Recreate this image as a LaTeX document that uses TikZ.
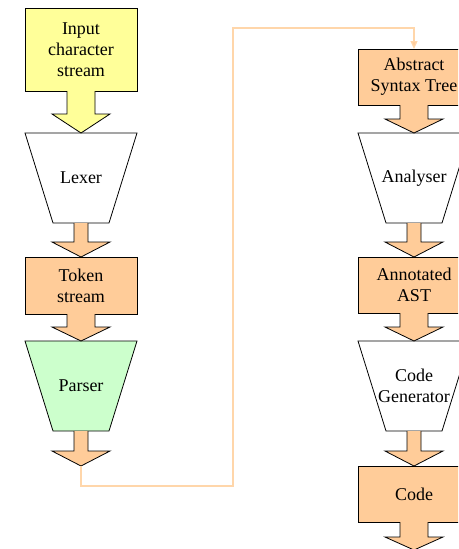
\documentclass[tikz,border=0pt]{standalone}
\usepackage{fontspec}
\setmainfont{Liberation Serif}
\usepackage{xcolor}
\usepackage{tikz}
\usetikzlibrary{arrows.meta,calc,backgrounds}

\definecolor{peach}{RGB}{255,204,153}
\definecolor{paleyellow}{RGB}{255,255,153}
\definecolor{palegreen}{RGB}{204,255,204}
\definecolor{linkpeach}{RGB}{255,214,170}

% block arrow: [cover] from, to, shaft half width, head length, fill
\newcommand{\flow}[6][0]{%
  \fill[#6] ($(#2)+(-#4,-#1)$) -- ($(#3)+(-#4,-#5)$) -- ($(#3)+(-29,-#5)$) -- (#3)
    -- ($(#3)+(29,-#5)$) -- ($(#3)+(#4,-#5)$) -- ($(#2)+(#4,-#1)$) -- cycle;
  \draw[edge] ($(#2)+(-#4,0)$) -- ($(#3)+(-#4,-#5)$) -- ($(#3)+(-29,-#5)$) -- (#3)
    -- ($(#3)+(29,-#5)$) -- ($(#3)+(#4,-#5)$) -- ($(#2)+(#4,0)$);
}

% trapezium outline behind a stage node: name, fill
\newcommand{\stageshape}[2]{%
  \begin{scope}[on background layer]
    \draw[edge, fill=#2] (#1.north west) -- (#1.north east) -- ($(#1.south east)+(-28,0)$)
      -- ($(#1.south west)+(28,0)$) -- cycle;
  \end{scope}
}

\begin{document}
\begin{tikzpicture}[
    x=1pt, y=-1pt,
    font=\fontsize{18}{21}\selectfont,
    edge/.style={draw=black, line width=0.8pt, line join=miter},
    box/.style={rectangle, draw, line width=0.8pt, minimum width=112pt, outer sep=0pt, align=center},
    stage/.style={rectangle, minimum width=112pt, minimum height=90pt, outer sep=0pt, inner sep=0pt, align=center},
    link/.style={draw=linkpeach, line width=1.2pt, -{Triangle[width=7pt,length=8pt,fill=peach]}}
]
\path[use as bounding box, clip] (0,0) rectangle (458,549);

% Front end
\node[box, fill=paleyellow, minimum height=83pt] (input) at (81,49.5) {Input\\character\\stream};
\node[stage] (lexer) at (81,178) {Lexer};
\stageshape{lexer}{white}
\node[box, fill=peach, minimum height=57pt] (token) at (81,285.5) {Token\\stream};
\node[stage] (parser) at (81,386) {Parser};
\stageshape{parser}{palegreen}
\coordinate (ptip) at (81,466);

% Back end
\node[box, fill=peach, minimum height=56pt] (ast) at (414,77) {Abstract\\Syntax Tree};
\node[stage] (analyser) at (414,178) {Analyser};
\stageshape{analyser}{white}
\node[box, fill=peach, minimum height=56pt] (annot) at (414,285) {Annotated\\AST};
\node[stage] (codegen) at (414,386) {Code\\Generator};
\stageshape{codegen}{white}
\node[box, fill=peach, minimum height=56pt] (code) at (414,494) {Code};
\coordinate (codeend) at (414,550);

% Block arrows
\flow[0.6]{input.south}{lexer.north}{14}{19}{paleyellow}
\flow{lexer.south}{token.north}{7}{15}{peach}
\flow[0.6]{token.south}{parser.north}{14}{14}{peach}
\flow{parser.south}{ptip}{7}{15}{peach}
\flow[0.6]{ast.south}{analyser.north}{14}{14}{peach}
\flow{analyser.south}{annot.north}{7}{15}{peach}
\flow[0.6]{annot.south}{codegen.north}{14}{14}{peach}
\flow{codegen.south}{code.north}{7}{15}{peach}
\flow[0.6]{code.south}{codeend}{14}{13}{peach}

% Link between columns
\draw[link] (ptip) -- ++(0,20) -- ++(152,0) |- ($(ast.north)+(0,-21)$) -- (ast.north);

\end{tikzpicture}
\end{document}
